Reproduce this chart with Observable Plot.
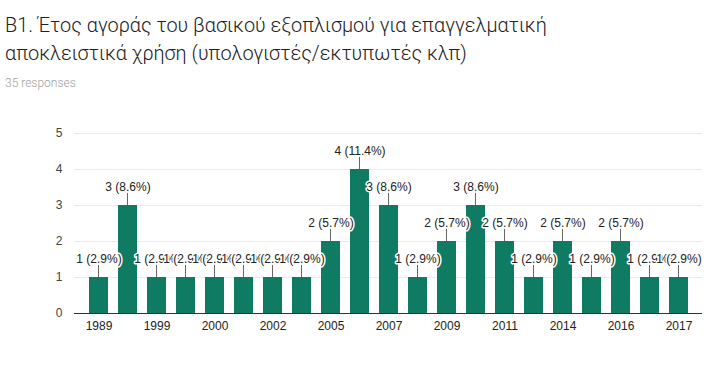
<!DOCTYPE html>
<html>
<head>
<meta charset="utf-8">
<script src="https://cdn.jsdelivr.net/npm/d3@7"></script>
<script src="https://cdn.jsdelivr.net/npm/@observablehq/plot@0.6"></script>
<style>
  html, body { margin: 0; padding: 0; background: #fff; }
  #wrap { position: relative; width: 718px; height: 376px; overflow: hidden; }
  #title { position: absolute; left: 5px; top: 12px; font-family: Roboto, sans-serif; font-size: 19.9px; line-height: 28px; color: #212121; font-weight: 300; }
  #sub { position: absolute; left: 5px; top: 76px; font-family: Roboto, sans-serif; font-size: 12px; color: #9e9e9e; font-weight: 300; }
  #chart { position: absolute; left: 0; top: 100px; }
</style>
</head>
<body>
<div id="wrap">
  <div id="title">B1. Έτος αγοράς του βασικού εξοπλισμού για επαγγελματική<br>αποκλειστικά χρήση (υπολογιστές/εκτυπωτές κλπ)</div>
  <div id="sub">35 responses</div>
  <div id="chart"></div>
</div>
<script>
const years = ["1989", "1990", "1999", "1999-2000", "2000", "2001", "2002", "2003", "2005", "2006", "2007", "2008", "2009", "2010", "2011", "2012", "2014", "2015", "2016", "2016-2017", "2017"];
const counts = [1, 3, 1, 1, 1, 1, 1, 1, 2, 4, 3, 1, 2, 3, 2, 1, 2, 1, 2, 1, 1];
const percents = ["2.9%", "8.6%", "2.9%", "2.9%", "2.9%", "2.9%", "2.9%", "2.9%", "5.7%", "11.4%", "8.6%", "2.9%", "5.7%", "8.6%", "5.7%", "2.9%", "5.7%", "2.9%", "5.7%", "2.9%", "2.9%"];
const shownTicks = ["1989", "1999", "2000", "2002", "2005", "2007", "2009", "2011", "2014", "2016", "2017"];
const yTicks = [0, 1, 2, 3, 4, 5];

const data = years.map((y, i) => ({year: y, count: counts[i], label: `${counts[i]} (${percents[i]})`}));

const chart = Plot.plot({
  width: 718,
  height: 250,
  marginLeft: 74,
  marginRight: 16,
  marginTop: 33,
  marginBottom: 37,
  style: {fontFamily: "'Liberation Sans', Arial, sans-serif", fontSize: "12px", color: "#444"},
  x: {domain: years, padding: 0.36, paddingOuter: 0.2, label: null},
  y: {domain: [0, 5], label: null},
  marks: [
    Plot.gridY(yTicks.filter(d => d > 0), {stroke: "#ebebeb", strokeOpacity: 1}),
    Plot.axisY({ticks: yTicks, tickFormat: d3.format("d"), tickSize: 0, tickPadding: 12, label: null, fill: "#444", fontSize: 12}),
    Plot.axisX({ticks: shownTicks, tickSize: 0, tickPadding: 8, label: null, fill: "#222", fontSize: 12}),
    Plot.barY(data, {x: "year", y: "count", fill: "#0f7b63"}),
    Plot.ruleY([0], {stroke: "#333", strokeWidth: 1.2}),
    Plot.tickY(data, {x: "year", y: "count", stroke: "#666", render: (index, scales) => {
      const g = d3.create("svg:g");
      for (const i of index) {
        const cx = scales.x(data[i].year) + scales.x.bandwidth() / 2;
        const yy = scales.y(data[i].count);
        g.append("line").attr("x1", cx).attr("x2", cx).attr("y1", yy).attr("y2", yy - 12).attr("stroke", "#666");
      }
      return g.node();
    }}),
    Plot.text(data, {x: "year", y: "count", text: "label", dy: -18, fill: "#222", stroke: "white", strokeWidth: 3, fontSize: 12})
  ]
});
document.getElementById("chart").appendChild(chart);
</script>
</body>
</html>
